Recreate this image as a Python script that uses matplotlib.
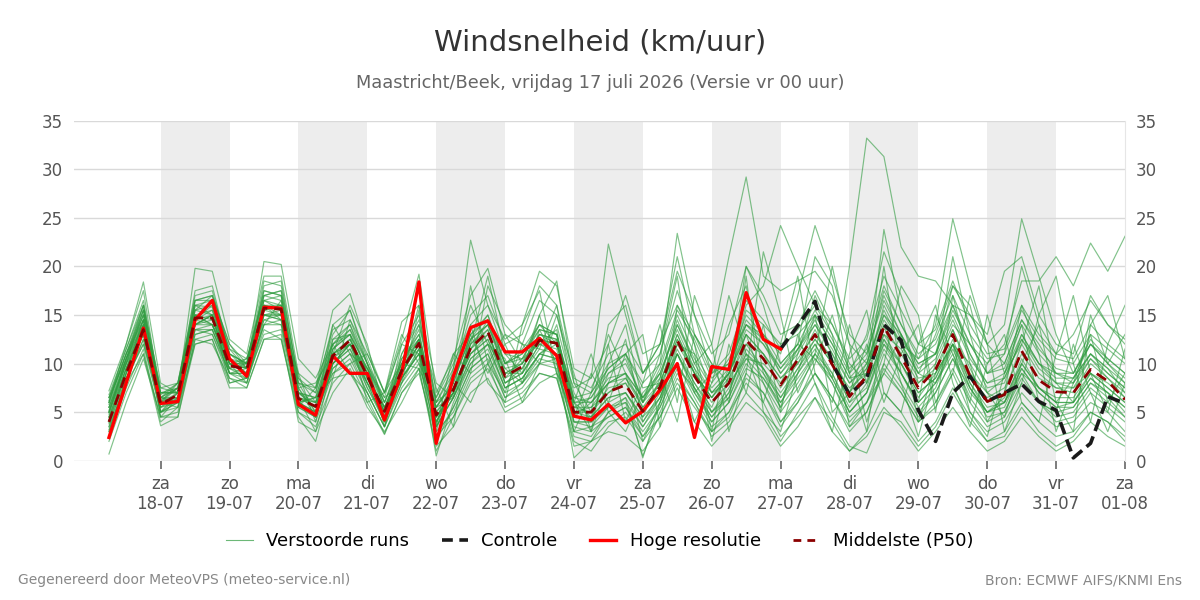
import pandas as pd
import matplotlib
matplotlib.use("Agg")
import matplotlib.pyplot as plt
from matplotlib.lines import Line2D

# 6-hourly forecast steps, 17-07 06:00 .. 01-08 00:00
times = pd.date_range("2026-07-17 06:00", periods=60, freq="6h")

# Hoge resolutie (runs until 27-07 00:00)
hires = [2.4, 8.0, 13.65, 5.9, 6.1, 14.5, 16.5, 10.5, 8.7, 15.8,
         15.7, 5.8, 4.7, 10.8, 9.0, 9.0, 4.2, 9.0, 18.4, 1.8,
         8.7, 13.7, 14.4, 11.2, 11.2, 12.6, 10.8, 4.6, 4.2, 5.8,
         3.9, 5.1, 7.3, 10.0, 2.4, 9.7, 9.4, 17.3, 12.5, 11.5]

# Controle (visible from 27-07 00:00)
control = [11.5, 13.9, 16.4, 10.0, 6.8, 8.5, 14.0, 12.4, 5.2, 2.0,
           7.0, 8.7, 6.1, 7.0, 7.9, 6.1, 5.2, 0.3, 1.8, 6.6, 5.9]

# Middelste (P50)
median = [4.0, 9.0, 13.5, 5.8, 6.8, 14.7, 14.7, 9.8, 9.4, 15.7,
          15.6, 6.4, 5.6, 10.8, 12.4, 8.7, 5.1, 9.3, 12.1, 4.7,
          7.3, 11.6, 13.3, 8.7, 9.7, 12.4, 12.1, 5.0, 5.0, 7.1,
          7.8, 5.1, 7.6, 12.4, 8.7, 6.0, 8.0, 12.4, 10.5, 7.8,
          10.4, 13.0, 9.9, 6.6, 8.7, 13.8, 10.7, 7.5, 9.4, 13.0,
          8.7, 6.1, 6.8, 11.3, 8.3, 7.1, 7.0, 9.4, 8.2, 6.3]

# Verstoorde runs
members = [
    [5.5, 10.2, 15.0, 6.2, 7.5, 16.0, 15.8, 10.5, 9.0, 16.5, 17.0, 7.5, 5.0, 11.5, 13.0, 9.5, 4.8, 10.0, 13.5, 3.8,
     8.0, 13.0, 15.0, 10.0, 11.5, 14.0, 13.0, 6.0, 4.5, 9.0, 10.5, 6.0, 9.5, 15.0, 11.0, 8.0, 10.5, 14.0, 12.0, 9.5,
     12.0, 10.5, 8.5, 20.0, 33.2, 31.3, 22.0, 19.0, 18.5, 16.0, 15.0, 12.0, 10.0, 14.5, 12.0, 9.0, 8.5, 12.0, 10.0, 8.0],
    [3.5, 8.0, 12.5, 5.5, 6.0, 13.5, 14.0, 9.5, 10.0, 15.0, 14.5, 6.0, 6.5, 10.0, 11.5, 8.0, 5.5, 8.5, 11.0, 5.5,
     6.5, 10.5, 12.0, 9.5, 8.0, 11.0, 12.5, 4.5, 6.0, 8.0, 9.0, 6.5, 8.5, 14.0, 10.0, 12.0, 21.0, 29.2, 19.0, 17.5,
     18.5, 19.5, 17.0, 12.0, 10.0, 15.0, 13.0, 9.0, 8.0, 12.0, 10.0, 7.0, 6.0, 9.0, 7.5, 6.0, 8.5, 11.0, 9.5, 7.0],
    [6.5, 11.5, 16.5, 7.0, 7.0, 17.5, 18.0, 11.0, 9.5, 18.0, 18.5, 8.0, 7.0, 13.0, 15.5, 10.5, 6.0, 11.0, 14.5, 6.0,
     9.5, 22.7, 16.0, 11.0, 10.5, 14.0, 12.0, 7.5, 8.5, 22.3, 15.0, 9.0, 11.0, 17.5, 12.0, 7.0, 9.0, 15.5, 14.0, 12.0,
     13.0, 15.0, 12.0, 8.5, 9.0, 16.0, 12.5, 10.0, 11.0, 15.0, 11.0, 8.0, 9.0, 13.0, 10.0, 9.0, 8.0, 11.0, 9.0, 7.5],
    [0.7, 6.0, 10.5, 4.5, 5.0, 12.5, 13.0, 8.5, 8.0, 13.5, 12.5, 5.0, 3.5, 8.0, 10.0, 6.5, 2.8, 7.0, 9.5, 1.0,
     4.5, 8.0, 9.5, 6.0, 7.0, 9.0, 8.5, 2.0, 1.0, 3.5, 5.0, 2.5, 4.5, 8.0, 5.5, 3.0, 4.5, 8.5, 7.0, 3.5,
     6.0, 9.0, 6.5, 3.5, 5.0, 9.0, 7.0, 4.0, 5.5, 9.0, 5.0, 3.0, 4.0, 7.0, 5.0, 3.5, 4.0, 6.0, 5.0, 3.0],
    [7.2, 12.0, 17.5, 6.5, 8.0, 16.5, 17.0, 12.0, 10.0, 17.0, 17.5, 8.5, 6.0, 12.0, 14.0, 9.0, 5.0, 10.5, 12.5, 4.0,
     7.0, 12.0, 14.0, 9.0, 10.0, 13.0, 12.5, 5.0, 5.5, 8.0, 9.0, 5.5, 8.0, 13.0, 9.0, 6.5, 9.0, 14.0, 12.5, 9.0,
     11.5, 14.5, 11.0, 7.0, 10.0, 15.5, 12.0, 10.5, 14.0, 24.9, 18.0, 12.0, 14.0, 24.9, 19.0, 13.0, 9.0, 12.0, 10.0, 8.5],
    [5.0, 9.5, 14.0, 6.0, 7.0, 15.0, 15.5, 10.0, 9.5, 16.0, 16.0, 7.0, 5.5, 11.0, 12.5, 9.0, 5.0, 9.5, 12.5, 5.0,
     7.5, 11.5, 13.0, 9.0, 10.0, 12.5, 12.0, 5.5, 5.0, 7.5, 8.0, 5.0, 7.5, 12.0, 9.0, 6.5, 8.5, 12.0, 11.0, 8.5,
     10.5, 13.0, 10.5, 7.0, 9.5, 14.0, 11.0, 8.0, 10.0, 14.0, 12.0, 10.0, 12.0, 18.5, 18.5, 21.0, 18.0, 22.4, 19.5, 23.1],
    [4.5, 9.5, 14.5, 5.0, 6.5, 14.0, 15.0, 9.0, 9.0, 15.5, 15.0, 6.0, 5.0, 11.0, 12.0, 9.0, 4.5, 9.0, 12.0, 4.5,
     7.0, 12.0, 13.5, 8.0, 9.5, 13.0, 12.5, 5.0, 4.5, 6.5, 7.0, 4.0, 6.5, 11.5, 8.0, 5.5, 9.5, 16.0, 18.0, 24.2,
     20.0, 16.0, 14.0, 10.0, 8.0, 12.0, 10.0, 7.0, 8.5, 12.5, 8.0, 5.0, 6.5, 10.0, 7.5, 6.0, 6.0, 9.0, 7.5, 6.0],
    [6.0, 11.0, 16.0, 6.5, 7.5, 16.5, 16.5, 11.0, 10.0, 17.5, 17.0, 7.0, 6.5, 12.0, 13.5, 10.0, 6.0, 10.5, 13.0, 5.5,
     8.0, 13.0, 14.5, 10.0, 11.0, 14.0, 13.0, 6.0, 6.5, 9.0, 10.0, 6.5, 10.0, 23.4, 15.0, 9.0, 10.0, 14.0, 13.0, 11.0,
     17.0, 24.2, 19.0, 13.0, 11.0, 17.0, 13.0, 9.5, 11.0, 15.5, 12.0, 9.0, 9.5, 14.0, 11.0, 9.0, 9.0, 12.5, 10.5, 9.0],
    [3.0, 8.5, 12.0, 5.0, 6.0, 13.0, 13.5, 9.0, 8.5, 14.0, 14.0, 5.5, 4.5, 9.5, 11.0, 8.0, 4.0, 8.0, 10.5, 2.5,
     5.5, 9.5, 11.0, 7.0, 8.0, 10.5, 10.0, 3.0, 2.5, 5.0, 6.0, 0.5, 5.0, 9.0, 6.0, 2.5, 4.0, 7.0, 5.0, 2.0,
     5.0, 8.0, 4.5, 1.5, 0.8, 5.0, 4.0, 1.5, 3.5, 7.0, 4.0, 2.0, 2.5, 5.5, 3.0, 1.5, 2.5, 5.0, 4.0, 2.0],
    [4.8, 10.0, 15.5, 6.5, 6.0, 14.5, 14.0, 10.5, 9.0, 16.5, 15.5, 6.5, 6.0, 11.5, 13.0, 8.5, 5.5, 9.5, 12.5, 4.0,
     7.5, 11.0, 12.5, 8.5, 10.5, 12.0, 11.0, 5.5, 5.5, 7.0, 8.5, 5.5, 7.0, 12.5, 9.5, 5.0, 7.0, 11.5, 9.5, 7.0,
     9.5, 12.5, 10.0, 6.0, 7.5, 13.0, 10.0, 6.5, 9.0, 12.0, 8.5, 6.5, 7.5, 11.0, 8.5, 7.5, 7.5, 9.0, 8.0, 6.5],
    [5.8, 10.5, 14.0, 7.0, 7.5, 15.5, 15.0, 9.0, 9.5, 14.5, 15.0, 7.5, 4.5, 10.0, 12.0, 7.5, 4.0, 8.5, 11.0, 3.5,
     6.5, 11.5, 14.5, 9.0, 9.0, 12.0, 13.5, 4.0, 4.0, 6.0, 7.0, 4.5, 8.5, 14.5, 10.0, 7.0, 8.0, 10.5, 8.5, 5.5,
     8.0, 11.0, 9.0, 5.0, 7.0, 12.0, 9.0, 6.0, 8.0, 11.0, 7.0, 5.0, 5.5, 9.5, 7.0, 5.5, 6.0, 8.5, 7.0, 5.0],
    [6.2, 11.0, 15.5, 6.8, 8.0, 16.0, 16.5, 11.5, 10.5, 17.0, 16.5, 8.0, 7.5, 13.5, 14.5, 11.0, 7.0, 12.0, 15.0, 6.5,
     10.0, 14.0, 16.0, 12.5, 14.0, 19.5, 18.0, 9.5, 8.5, 12.0, 17.0, 11.0, 12.0, 16.0, 13.0, 9.0, 11.0, 16.5, 14.5, 11.5,
     13.5, 16.0, 13.0, 9.5, 11.5, 18.0, 14.0, 11.0, 12.5, 17.0, 13.0, 10.5, 11.0, 15.5, 12.5, 10.5, 10.0, 13.0, 11.5, 10.0],
    [2.5, 7.5, 11.5, 4.0, 5.5, 12.0, 12.5, 8.0, 8.5, 13.0, 13.5, 5.0, 4.0, 9.0, 10.5, 7.0, 3.5, 7.5, 10.0, 3.0,
     5.0, 9.0, 10.5, 6.5, 7.5, 10.0, 10.5, 3.5, 3.0, 4.5, 5.5, 2.5, 5.5, 10.0, 7.0, 4.0, 6.0, 10.0, 8.0, 5.0,
     7.5, 10.5, 8.0, 4.5, 6.0, 11.0, 8.0, 5.0, 7.0, 10.5, 6.5, 4.0, 5.0, 9.0, 6.0, 4.5, 5.0, 7.5, 6.0, 4.5],
    [4.2, 9.0, 13.0, 5.5, 7.0, 15.0, 14.5, 10.0, 9.0, 15.0, 15.5, 6.5, 5.5, 10.5, 12.5, 8.5, 5.0, 9.0, 12.5, 5.0,
     7.0, 11.0, 13.0, 8.5, 9.5, 12.5, 12.0, 5.0, 5.0, 7.0, 8.0, 5.0, 8.0, 13.0, 9.0, 6.0, 8.0, 13.0, 11.0, 7.5,
     10.0, 13.5, 10.0, 6.0, 9.0, 23.8, 15.0, 8.0, 9.5, 13.5, 9.5, 6.0, 7.0, 12.0, 9.0, 7.5, 7.0, 10.0, 8.5, 6.5],
    [5.2, 10.0, 14.5, 6.0, 6.5, 14.0, 15.0, 10.0, 10.0, 16.0, 15.0, 6.5, 6.0, 11.0, 12.0, 9.5, 5.5, 9.5, 11.5, 4.5,
     7.0, 12.5, 14.0, 9.5, 10.0, 13.0, 12.0, 6.0, 6.0, 8.0, 8.5, 6.0, 9.0, 13.5, 9.5, 7.0, 9.0, 13.5, 12.0, 9.0,
     11.0, 14.0, 11.0, 8.0, 9.5, 14.5, 12.0, 9.0, 13.0, 18.0, 15.0, 13.0, 19.5, 21.0, 15.0, 12.0, 11.0, 17.0, 14.0, 12.0],
    [3.8, 8.5, 12.5, 5.0, 7.0, 13.5, 13.0, 9.0, 8.0, 14.5, 14.0, 6.0, 4.5, 10.0, 11.5, 7.5, 4.5, 8.5, 11.0, 0.5,
     6.0, 10.0, 12.0, 7.5, 8.5, 11.0, 10.5, 0.3, 2.0, 5.0, 6.5, 0.3, 6.0, 11.0, 7.5, 4.5, 7.0, 12.0, 9.5, 6.0,
     9.0, 12.0, 8.5, 5.0, 7.0, 12.5, 9.0, 5.5, 7.5, 12.0, 7.5, 5.0, 6.0, 10.0, 7.5, 6.0, 6.0, 8.5, 7.0, 5.5],
    [6.8, 11.5, 16.0, 7.5, 8.0, 17.0, 17.5, 11.0, 10.0, 18.5, 18.0, 8.5, 7.0, 14.0, 15.5, 10.0, 6.5, 12.5, 19.2, 7.0,
     10.5, 17.0, 19.8, 13.0, 12.0, 16.5, 15.0, 8.0, 7.0, 10.0, 11.0, 8.0, 10.0, 15.5, 12.5, 8.5, 10.0, 15.0, 13.0, 10.0,
     12.0, 15.5, 12.5, 9.0, 11.0, 16.5, 13.0, 10.0, 11.0, 16.0, 12.0, 9.0, 10.0, 14.5, 11.5, 9.5, 9.0, 12.0, 10.5, 9.0],
    [4.5, 9.5, 13.5, 6.5, 6.0, 14.5, 15.0, 10.5, 9.5, 16.0, 15.5, 6.0, 5.0, 11.0, 12.5, 8.0, 5.0, 9.0, 12.0, 4.5,
     7.5, 11.0, 12.5, 8.0, 9.0, 11.5, 11.0, 4.5, 4.5, 6.5, 7.0, 4.5, 6.5, 11.0, 7.5, 5.0, 7.5, 11.0, 9.0, 6.5,
     9.5, 12.0, 9.0, 5.5, 8.0, 12.5, 10.0, 7.0, 8.5, 12.0, 8.0, 5.5, 6.0, 10.5, 7.5, 6.5, 6.5, 9.0, 7.5, 6.0],
    [5.0, 10.5, 15.0, 7.0, 7.0, 16.5, 17.0, 12.0, 9.5, 20.5, 20.2, 10.5, 8.5, 12.0, 13.0, 9.5, 6.0, 10.0, 13.0, 5.5,
     8.5, 12.5, 14.0, 10.0, 11.0, 13.5, 13.0, 6.5, 6.0, 8.5, 9.0, 6.5, 9.0, 14.0, 10.5, 7.5, 9.5, 14.5, 12.5, 9.5,
     11.5, 14.0, 11.5, 8.0, 10.0, 15.0, 12.0, 9.0, 10.5, 14.5, 10.5, 8.0, 8.5, 12.5, 10.0, 8.5, 8.5, 11.0, 9.5, 8.0],
    [3.2, 8.0, 11.0, 3.6, 4.5, 12.5, 12.0, 8.5, 7.5, 12.5, 12.5, 4.5, 2.0, 8.5, 9.0, 6.0, 2.7, 7.0, 9.0, 2.5,
     4.5, 8.5, 10.0, 5.5, 6.5, 9.0, 8.5, 2.5, 2.0, 4.0, 4.5, 2.0, 4.5, 8.5, 6.0, 3.0, 5.0, 9.0, 7.0, 4.0,
     6.5, 9.0, 6.5, 3.0, 5.0, 9.5, 7.0, 4.0, 6.0, 9.5, 6.0, 3.5, 4.5, 8.0, 6.0, 4.0, 4.5, 7.0, 5.5, 4.0],
    [6.0, 12.0, 18.4, 8.0, 7.0, 19.8, 19.5, 12.5, 11.0, 19.0, 19.0, 9.0, 7.5, 15.5, 17.2, 11.5, 7.0, 14.3, 16.0, 6.0,
     9.0, 15.0, 17.0, 12.0, 13.0, 18.0, 16.0, 8.5, 7.5, 11.0, 12.0, 9.0, 12.0, 19.5, 15.0, 11.0, 13.0, 20.0, 17.0, 13.0,
     14.0, 17.5, 14.0, 10.5, 12.5, 19.0, 15.5, 12.0, 13.5, 18.5, 14.0, 11.0, 11.5, 16.0, 13.0, 11.0, 10.5, 14.0, 12.0, 10.5],
    [4.0, 9.0, 14.0, 5.5, 6.5, 14.0, 14.0, 9.5, 9.0, 15.0, 15.0, 6.0, 5.0, 10.5, 12.0, 8.5, 4.5, 9.0, 12.0, 4.0,
     7.0, 11.5, 13.5, 8.0, 9.0, 12.0, 11.5, 4.0, 4.0, 5.5, 6.5, 3.5, 6.0, 10.0, 6.5, 3.5, 5.0, 8.0, 6.0, 2.5,
     4.5, 6.5, 4.0, 1.0, 3.0, 7.0, 5.0, 2.0, 4.0, 7.5, 4.5, 2.0, 3.0, 6.0, 4.0, 2.5, 3.0, 5.0, 4.0, 2.5],
    [5.5, 10.0, 13.0, 6.0, 7.5, 15.5, 16.0, 10.0, 10.5, 16.5, 16.0, 7.0, 6.5, 12.5, 14.0, 10.0, 5.5, 10.0, 12.5, 3.5,
     6.5, 10.0, 11.5, 7.5, 8.5, 11.0, 12.0, 6.5, 7.0, 9.5, 11.0, 7.5, 8.0, 11.0, 7.0, 4.5, 6.5, 10.5, 10.0, 8.0,
     11.5, 15.0, 12.0, 8.5, 10.5, 17.5, 14.0, 10.5, 12.0, 16.0, 11.0, 7.5, 8.0, 13.0, 10.0, 8.0, 7.5, 10.5, 9.0, 7.5],
    [3.5, 9.0, 14.5, 5.0, 5.5, 13.5, 13.5, 9.5, 8.5, 15.0, 14.5, 5.5, 4.5, 9.5, 11.0, 7.0, 3.5, 8.0, 11.5, 2.0,
     5.5, 9.5, 11.0, 6.5, 8.0, 10.0, 9.5, 3.0, 3.5, 4.5, 5.5, 3.0, 5.5, 9.5, 7.5, 4.0, 6.0, 9.5, 8.5, 6.0,
     8.5, 11.0, 8.0, 4.0, 6.0, 10.0, 7.5, 4.5, 7.0, 10.5, 7.5, 4.5, 5.0, 8.5, 6.0, 5.0, 5.5, 8.0, 6.5, 4.5],
    [5.0, 10.5, 15.5, 6.0, 6.0, 14.0, 14.5, 10.5, 10.0, 17.5, 17.0, 6.5, 5.5, 11.5, 13.5, 9.0, 5.0, 9.0, 12.0, 4.5,
     7.0, 12.5, 15.0, 10.0, 10.5, 13.5, 13.0, 5.5, 6.5, 9.5, 11.0, 6.0, 8.0, 12.5, 9.0, 6.5, 9.0, 13.0, 11.0, 8.5,
     10.0, 12.5, 10.0, 7.5, 9.0, 13.0, 11.5, 8.5, 9.0, 13.5, 9.0, 7.0, 8.5, 12.5, 9.5, 8.0, 8.0, 10.5, 8.5, 7.0],
    [6.5, 11.0, 14.5, 7.0, 7.0, 14.5, 15.5, 10.0, 9.5, 15.5, 16.0, 7.0, 5.5, 10.0, 12.0, 8.0, 4.0, 8.5, 11.5, 3.5,
     6.5, 10.5, 12.0, 7.5, 8.5, 11.0, 10.5, 4.0, 3.5, 5.5, 6.0, 3.5, 6.5, 11.0, 8.0, 5.0, 6.5, 11.0, 9.5, 6.5,
     9.0, 11.5, 8.5, 5.0, 7.0, 11.5, 9.0, 6.0, 8.0, 11.5, 7.5, 5.0, 6.0, 9.5, 7.0, 5.5, 5.5, 8.0, 7.0, 5.5],
    [4.5, 9.0, 13.0, 6.5, 7.5, 15.0, 14.0, 10.0, 9.5, 15.0, 15.0, 7.0, 6.0, 9.0, 10.0, 11.0, 7.0, 13.0, 10.0, 6.5,
     11.0, 9.0, 18.0, 14.0, 12.0, 10.0, 15.0, 9.0, 3.0, 12.0, 4.0, 8.0, 14.0, 6.0, 17.0, 12.0, 3.0, 9.0, 21.5, 15.0,
     7.0, 11.0, 20.0, 12.0, 4.0, 10.0, 18.0, 15.0, 6.0, 9.0, 17.0, 12.0, 3.0, 8.0, 15.0, 19.0, 10.0, 4.0, 12.0, 16.0],
    [5.0, 10.0, 14.0, 5.0, 6.0, 14.0, 15.0, 8.0, 8.5, 16.0, 14.5, 5.5, 7.5, 12.0, 9.0, 7.0, 3.5, 11.0, 14.0, 7.5,
     3.5, 14.0, 8.0, 6.0, 14.0, 17.5, 9.0, 4.5, 9.0, 6.0, 11.0, 13.0, 3.5, 16.0, 12.0, 3.0, 12.0, 7.0, 14.0, 5.0,
     13.0, 8.0, 3.0, 11.0, 15.5, 7.0, 5.0, 12.0, 16.0, 8.0, 3.5, 10.0, 13.0, 6.0, 4.0, 11.0, 17.0, 9.0, 5.0, 11.5],
    [6.0, 11.0, 15.0, 7.5, 7.0, 16.0, 15.0, 11.0, 10.0, 16.0, 15.5, 8.0, 5.0, 14.0, 11.0, 9.5, 6.5, 8.0, 15.5, 3.0,
     9.5, 16.0, 12.0, 10.5, 6.0, 10.0, 14.0, 7.0, 4.0, 10.0, 14.0, 6.0, 11.0, 19.0, 7.0, 9.0, 17.0, 11.0, 6.0, 12.0,
     19.0, 9.0, 6.0, 14.0, 8.0, 20.0, 9.0, 6.0, 15.0, 11.0, 6.0, 15.0, 9.0, 12.0, 18.0, 8.0, 6.0, 15.0, 10.0, 13.0],
    [3.0, 8.5, 12.0, 6.0, 5.5, 13.0, 13.5, 9.0, 9.0, 14.0, 14.5, 9.0, 4.0, 12.5, 13.0, 6.0, 7.0, 10.0, 9.5, 5.5,
     8.0, 6.0, 10.0, 13.0, 10.0, 15.0, 9.0, 6.0, 11.0, 5.0, 3.0, 7.0, 9.0, 4.0, 13.0, 10.0, 6.0, 19.0, 5.0, 3.0,
     9.0, 15.0, 5.0, 7.0, 12.0, 6.0, 11.0, 14.0, 5.0, 17.0, 10.0, 4.0, 7.0, 16.0, 11.0, 3.0, 8.0, 13.0, 6.0, 9.0],
    [5.5, 10.5, 14.5, 4.5, 6.5, 15.0, 14.0, 9.5, 10.5, 15.5, 16.0, 6.0, 6.5, 8.5, 14.5, 10.0, 3.5, 9.5, 16.0, 8.0,
     6.5, 18.0, 10.0, 7.0, 12.0, 11.5, 16.0, 6.0, 3.0, 8.0, 12.5, 4.0, 7.0, 10.0, 4.0, 8.0, 14.0, 18.0, 9.0, 5.5,
     11.0, 17.0, 13.0, 3.5, 6.0, 9.0, 13.0, 4.0, 10.0, 21.0, 13.0, 7.0, 4.5, 10.0, 14.0, 6.0, 3.0, 14.0, 17.0, 10.5],
    [4.0, 9.5, 13.0, 6.0, 8.0, 14.5, 16.0, 10.0, 8.0, 14.0, 16.5, 6.5, 3.0, 10.0, 12.0, 9.0, 4.5, 12.0, 11.0, 3.5,
     11.0, 13.0, 9.0, 12.0, 8.0, 13.5, 10.0, 3.0, 7.0, 13.0, 9.0, 2.0, 6.0, 12.0, 11.0, 2.0, 9.0, 13.0, 8.0, 4.0,
     6.0, 10.0, 15.0, 9.0, 3.0, 14.0, 8.0, 2.5, 9.0, 12.0, 5.0, 2.5, 9.0, 14.0, 6.0, 5.0, 12.0, 7.0, 3.0, 8.0],
    [6.5, 10.5, 16.0, 6.5, 6.5, 15.5, 17.0, 11.5, 9.5, 17.0, 17.5, 7.5, 8.0, 11.0, 16.0, 12.0, 5.0, 9.5, 14.0, 6.0,
     7.5, 12.0, 19.0, 11.0, 9.0, 15.0, 18.5, 8.0, 5.0, 14.0, 16.0, 9.0, 12.0, 21.0, 13.0, 10.0, 8.0, 20.0, 16.0, 10.0,
     12.0, 21.0, 18.0, 9.0, 13.0, 21.5, 17.0, 12.0, 11.0, 18.0, 16.0, 9.0, 11.0, 20.0, 14.0, 11.0, 13.0, 16.5, 14.0, 12.5],
    [2.0, 7.0, 11.0, 4.5, 4.5, 12.0, 12.5, 7.5, 7.5, 12.5, 13.0, 4.0, 3.0, 7.0, 9.5, 5.5, 3.0, 6.0, 9.5, 1.5,
     3.5, 7.0, 8.5, 5.0, 6.0, 8.0, 9.0, 1.5, 2.0, 3.0, 2.5, 1.0, 3.5, 7.5, 4.0, 1.5, 3.5, 6.0, 4.5, 1.5,
     3.5, 6.5, 3.0, 1.0, 2.5, 5.5, 3.5, 1.0, 3.0, 5.5, 3.0, 1.0, 2.0, 4.5, 2.5, 1.0, 2.0, 4.0, 2.5, 1.5],
]

day_labels = ["za\n18-07", "zo\n19-07", "ma\n20-07", "di\n21-07", "wo\n22-07",
              "do\n23-07", "vr\n24-07", "za\n25-07", "zo\n26-07", "ma\n27-07",
              "di\n28-07", "wo\n29-07", "do\n30-07", "vr\n31-07", "za\n01-08"]
day_ticks = pd.date_range("2026-07-18", periods=15, freq="D")
shade_days = pd.date_range("2026-07-18", periods=7, freq="2D")

fig = plt.figure(figsize=(12, 6), dpi=100)
ax = fig.add_axes([0.0617, 0.232, 0.9375 - 0.0617, 0.799 - 0.232])

for d in shade_days:
    ax.axvspan(d, d + pd.Timedelta(days=1), color="#ededed", zorder=0, lw=0)

green = "#2e9b3e"
for m in members:
    ax.plot(times, m, color=green, lw=0.85, alpha=0.6, zorder=2)

ax.plot(times[39:], control, color="#1a1a1a", lw=2.6, ls=(0, (3.5, 1.6)), zorder=4)
ax.plot(times[:len(hires)], hires, color="#ff0000", lw=2.4, zorder=5)
ax.plot(times, median, color="#8b0000", lw=2.0, ls=(0, (4, 2.5)), zorder=6)

ax.set_ylim(0, 35)
ax.set_yticks(range(0, 36, 5))
ax.set_xlim(pd.Timestamp("2026-07-16 17:50"), pd.Timestamp("2026-08-01 00:00"))
ax.set_xticks(day_ticks)
ax.set_xticklabels(day_labels)
ax.grid(axis="y", color="#d9d9d9", lw=1)
ax.set_axisbelow(True)
for s in ["top", "left", "bottom"]:
    ax.spines[s].set_visible(False)
ax.spines["right"].set_color("#e6e6e6")
ax.tick_params(axis="y", length=0, labelsize=12, labelcolor="#555555",
               labelright=True, pad=8)
ax.tick_params(axis="x", length=6, width=1.2, color="#666666", labelsize=12,
               labelcolor="#555555", pad=4)

fig.text(0.5, 0.93, "Windsnelheid (km/uur)", ha="center", va="center",
         fontsize=21, color="#333333")
fig.text(0.5, 0.862, "Maastricht/Beek, vrijdag 17 juli 2026 (Versie vr 00 uur)",
         ha="center", va="center", fontsize=12.8, color="#666666")

handles = [
    Line2D([], [], color=green, lw=0.8, alpha=0.7),
    Line2D([], [], color="#1a1a1a", lw=2.6, ls=(0, (3, 1.8))),
    Line2D([], [], color="#ff0000", lw=2.4),
    Line2D([], [], color="#8b0000", lw=2.0, ls=(0, (2.8, 2.2))),
]
fig.legend(handles, ["Verstoorde runs", "Controle", "Hoge resolutie", "Middelste (P50)"],
           loc="center", bbox_to_anchor=(0.5, 0.098), ncol=4, frameon=False,
           fontsize=13, handlelength=1.45, handletextpad=0.75, columnspacing=1.8)

fig.text(0.015, 0.033, "Gegenereerd door MeteoVPS (meteo-service.nl)",
         ha="left", va="center", fontsize=10, color="#888888")
fig.text(0.985, 0.033, "Bron: ECMWF AIFS/KNMI Ens",
         ha="right", va="center", fontsize=10, color="#888888")

fig.savefig("out.png", dpi=100)
